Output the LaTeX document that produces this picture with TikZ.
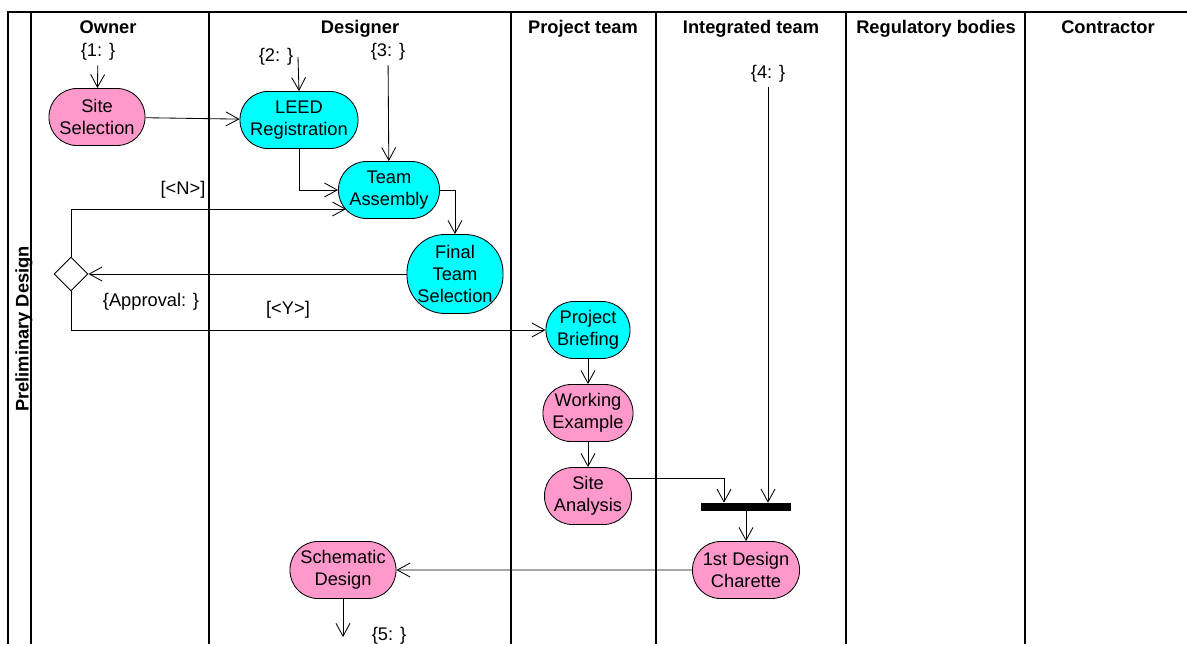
\documentclass[tikz,border=0pt]{standalone}
\usepackage{fontspec}
\setmainfont{Liberation Sans}
\usetikzlibrary{arrows.meta,shapes.geometric}
\definecolor{actpink}{HTML}{FF99CC}
\definecolor{actcyan}{HTML}{00FFFF}

\begin{document}
\begin{tikzpicture}[x=0.025cm, y=-0.025cm, node distance=2.075cm, font=\fontsize{13}{15.5}\selectfont]
\tikzstyle{act} = [rectangle, rounded corners=0.7cm, minimum width=2.4cm, minimum height=1.425cm, inner sep=0pt, align=center, draw=black, line width=0.6pt]
\tikzstyle{pinkact} = [act, fill=actpink]
\tikzstyle{cyanact} = [act, fill=actcyan]
\tikzstyle{decision} = [diamond, minimum size=0.85cm, inner sep=0pt, draw=black, fill=white, line width=0.6pt]
\tikzstyle{joinbar} = [rectangle, minimum width=2.25cm, minimum height=0.2cm, inner sep=0pt, fill=black]
\tikzstyle{head} = [font=\fontsize{13}{15.5}\selectfont\bfseries, text height=0.72em, text depth=0.21em]
\tikzstyle{lane} = [line width=0.8pt]
\tikzstyle{arrow} = [line width=0.6pt, -{Straight Barb[length=3.2mm,width=3.5mm]}]
\useasboundingbox (0,0) rectangle (1187,644);
%
\draw [lane] (8,644) -- (8,12) -- (1187,12);
\foreach \x in {31,209,511,656,846,1025}
  \draw [lane] (\x,12) -- (\x,644);
\node (phase) [head, rotate=90] at (25,329) {Preliminary Design};
\node (owner) [head] at (108,30) {Owner};
\node (designer) [head] at (360,30) {Designer};
\node (projteam) [head] at (583,30) {Project team};
\node (intteam) [head] at (751,30) {Integrated team};
\node (regbodies) [head] at (936,30) {Regulatory bodies};
\node (contractor) [head] at (1108,30) {Contractor};
%
\node (s1) at (98,52) {\{1: \}};
\node (s2) at (276,57) {\{2: \}};
\coordinate (c2) at (298,57);
\node (s3) at (388,52) {\{3: \}};
\node (s4) at (768,74) {\{4: \}};
\node (s5) at (389,636) {\{5: \}};
\coordinate (c5) at (343,637);
%
\node (sitesel) [pinkact] at (97,117) {Site\\Selection};
\node (leed) [cyanact, minimum width=2.95cm] at (299,120) {LEED\\Registration};
\node (team) [cyanact, minimum width=2.525cm] at (389,190) {Team\\Assembly};
\node (final) [cyanact, minimum height=1.975cm, rounded corners=0.95cm] at (455,274) {Final\\Team\\Selection};
\node (dec) [decision] at (71,274) {};
\node (brief) [cyanact, minimum width=2.1cm] at (588,330) {Project\\Briefing};
\node (work) [pinkact, minimum width=2.25cm, below of=brief] {Working\\Example};
\node (site) [pinkact, minimum width=2.175cm, below of=work] {Site\\Analysis};
\node (bar) [joinbar] at (746,507) {};
\node (charette) [pinkact, minimum width=2.675cm, below of=bar, node distance=1.575cm] {1st Design\\Charette};
\node (schem) [pinkact, minimum width=2.65cm] at (343,570) {Schematic\\Design};
%
\node (no) at (183,190) {[<N>]};
\node (yes) at (288,310) {[<Y>]};
\node (appr) at (151,302) {\{Approval: \}};
%
\draw [arrow] (s1) -- (sitesel);
\draw [arrow] (c2) -- (leed.north);
\draw [arrow] (s3) -- (team);
\draw [arrow] (sitesel) -- (leed);
\draw [arrow] (leed.south) |- (team.west);
\draw [arrow] (team.east) -| (final.north);
\draw [arrow] (final.west) -- (dec.east);
\draw [arrow] (dec.north) |- ([xshift=0.2cm,yshift=-0.475cm]team.west);
\draw [arrow] (dec.south) |- (brief.west);
\draw [arrow] (brief) -- (work);
\draw [arrow] (work) -- (site);
\draw [arrow] ([xshift=-0.16cm,yshift=0.45cm]site.east) -| ([xshift=-0.55cm]bar.north);
\draw [arrow] (s4) -- (s4 |- bar.north);
\draw [arrow] (bar) -- (charette);
\draw [arrow] (charette) -- (schem);
\draw [arrow] (schem) -- (c5);
\end{tikzpicture}
\end{document}
